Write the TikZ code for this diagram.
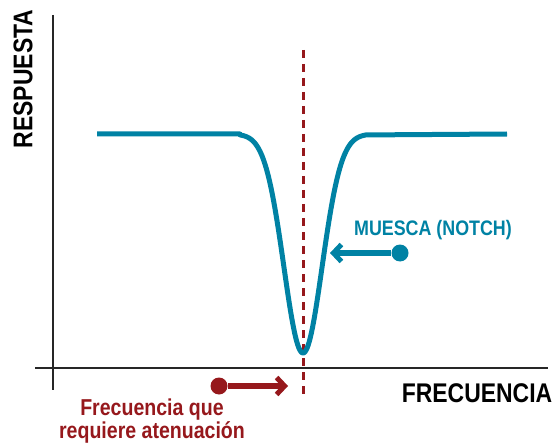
\documentclass[tikz,border=0pt]{standalone}
\usepackage{fontspec}
\setmainfont[FakeStretch=0.85]{Liberation Sans}
\usetikzlibrary{arrows.meta}
\definecolor{notchblue}{RGB}{0,130,164}
\definecolor{cutred}{RGB}{150,24,28}

\begin{document}
\begin{tikzpicture}[x=1pt,y=-1pt]
    \tikzstyle{all nodes}=[inner sep=0pt,font=\bfseries]
    \tikzstyle{axis}=[line width=2pt,black!85]
    \tikzstyle{curve}=[line width=5pt,notchblue,line join=round]
    \tikzstyle{pointer}=[line width=5.5pt,-{Straight Barb[length=8pt,width=17pt,line width=5pt]}]
    \tikzstyle{dot}=[circle,minimum size=17pt,fill]
    \useasboundingbox (0,0) rectangle (556,446);
    % axes
    \coordinate (ytop) at (53,15); \coordinate (ybot) at (53,390);
    \coordinate (xleft) at (35,368); \coordinate (xright) at (548,368);
    \draw[axis] (ytop)--(ybot);
    \draw[axis] (xleft)--(xright);
    \draw node[rotate=90,font=\bfseries\fontsize{27}{27}\selectfont](resp)at(23,79){RESPUESTA}
          node[font=\bfseries\fontsize{27}{27}\selectfont](freq)at(477,393){FRECUENCIA};
    % notch centre
    \coordinate (fctop) at (303,50); \coordinate (fcbot) at (303,396);
    \draw[cutred,line width=3pt,dash pattern=on 8pt off 6pt] (fctop)--(fcbot);
    % response
    \draw[curve] (97,134) -- (240,134)
          -- plot[domain=-63:63,samples=121] ({303+\x},{134+219*exp(-((\x/27)^2))})
          -- (507,134);
    % labels
    \draw node[dot,notchblue](ndot)at(400,253){}
          node[notchblue,font=\bfseries\fontsize{21}{21}\selectfont](nlab)at(433,230){MUESCA (NOTCH)};
    \coordinate (ntip) at (330,253);
    \draw[pointer,notchblue](ndot)--(ntip);
    \draw node[dot,cutred](rdot)at(219,386){}
          node[cutred,align=center,font=\bfseries\fontsize{23}{23}\selectfont](rlab)at(152,421){Frecuencia que\\requiere atenuación};
    \coordinate (rtip) at (288,386);
    \draw[pointer,cutred](rdot)--(rtip);
\end{tikzpicture}
\end{document}
